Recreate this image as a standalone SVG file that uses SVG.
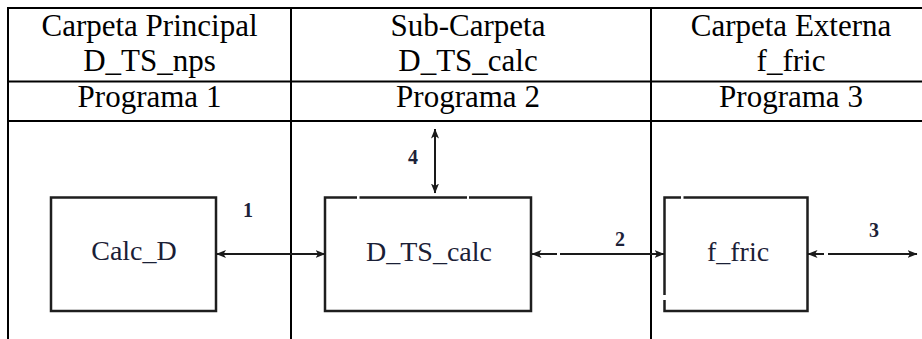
<svg xmlns="http://www.w3.org/2000/svg" width="922" height="339" viewBox="0 0 922 339">
  <style>
    .grid { stroke: #000; stroke-width: 2; fill: none; }
    .serif { font-family: 'Liberation Serif', 'Times New Roman', Tinos, 'DejaVu Serif', serif; }
    .head { font-size: 31px; fill: #000; text-anchor: middle; }
    .box { stroke: #1e1e1e; stroke-width: 2.5; fill: none; }
    .name { font-size: 28px; fill: #1a2036; text-anchor: middle; }
    .num { font-size: 20px; font-weight: bold; fill: #1c2238; text-anchor: middle; }
    .link { stroke: #1a1a1a; stroke-width: 2; fill: none; marker-start: url(#ah); marker-end: url(#ah); }
  </style>
  <defs>
    <marker id="ah" viewBox="0 0 10 8" refX="9.5" refY="4" markerWidth="10" markerHeight="8" markerUnits="userSpaceOnUse" orient="auto-start-reverse">
      <path d="M0,0 L10,4 L0,8 L2.5,4 z" fill="#1a1a1a"/>
    </marker>
  </defs>

  <!-- table frame: three columns, header rows, open bottom and right -->
  <g id="table" class="grid">
    <line x1="8" y1="8" x2="922" y2="8"/>
    <line x1="8" y1="81.5" x2="922" y2="81.5"/>
    <line x1="8" y1="121" x2="922" y2="121"/>
    <line x1="8" y1="7" x2="8" y2="339"/>
    <line x1="291" y1="7" x2="291" y2="339"/>
    <line x1="651" y1="7" x2="651" y2="339"/>
  </g>

  <g id="headers" class="serif">
    <text class="head" x="149.5" y="36">Carpeta Principal</text>
    <text class="head" x="149.5" y="71">D_TS_nps</text>
    <text class="head" x="149.5" y="107">Programa 1</text>
    <text class="head" x="468" y="36">Sub-Carpeta</text>
    <text class="head" x="468" y="71">D_TS_calc</text>
    <text class="head" x="468" y="107">Programa 2</text>
    <text class="head" x="791" y="36">Carpeta Externa</text>
    <text class="head" x="791" y="71">f_fric</text>
    <text class="head" x="791" y="107">Programa 3</text>
  </g>

  <!-- program blocks -->
  <g id="calc_d" class="serif">
    <rect class="box" x="51" y="197.5" width="165" height="113.5"/>
    <text class="name" x="134" y="260">Calc_D</text>
  </g>

  <g id="d_ts_calc" class="serif">
    <path class="box" d="M357,197.5 H325 V311 H531 V197.5 H469 M467,197.5 H359.5"/>
    <text class="name" x="429" y="261">D_TS_calc</text>
  </g>

  <g id="f_fric" class="serif">
    <path class="box" d="M681,197.5 H664.5 V295 M664.5,300 V311 H807.5 V197.5 H683.5"/>
    <text class="name" x="738" y="261">f_fric</text>
  </g>

  <!-- connectors with their numbers -->
  <g id="connectors" class="serif">
    <path class="link" d="M216.5,254 H325"/>
    <path class="link" d="M435,129 V193"/>
    <path class="link" d="M532,254 H557 M560,254 H664"/>
    <path class="link" d="M808,254 H824 M828,254 H917"/>
    <text class="num" x="248" y="217">1</text>
    <text class="num" x="413" y="164">4</text>
    <text class="num" x="620" y="246">2</text>
    <text class="num" x="874" y="237">3</text>
  </g>
</svg>
